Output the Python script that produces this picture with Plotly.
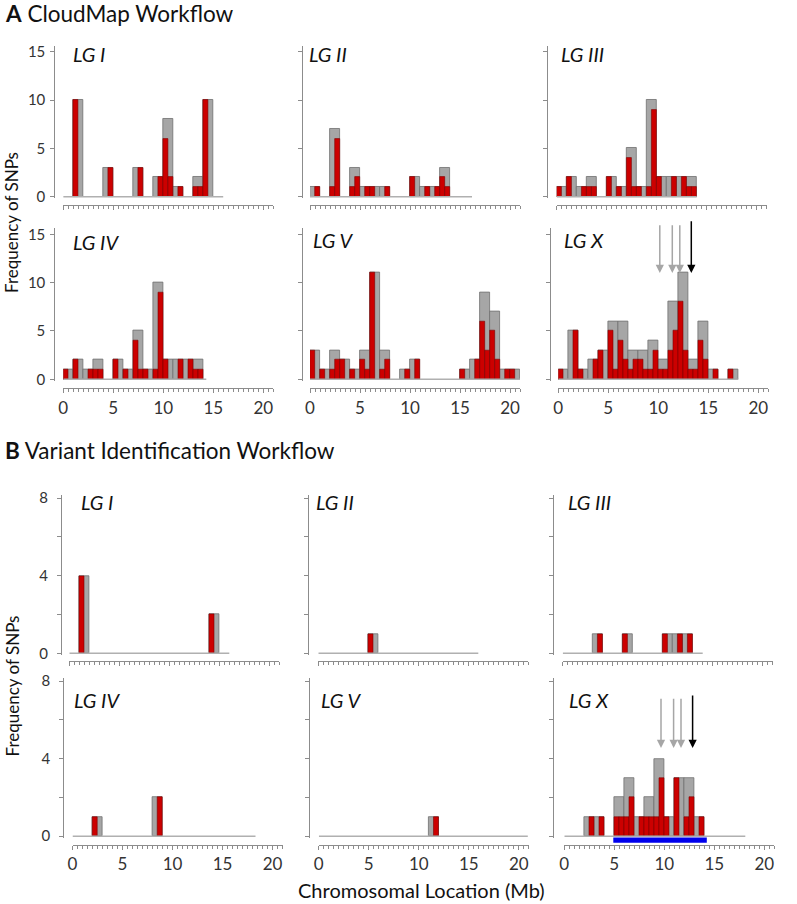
import plotly.graph_objects as go

W, H = 797, 904

# ---------------- data (Mb bins) ----------------
# Section A: CloudMap workflow. gray = 1 Mb bins (left edge), red = 0.5 Mb bins (left edge)
A_I_gray_x = [1, 4, 7, 9, 10, 11, 13, 14]
A_I_gray_y = [10, 3, 3, 2, 8, 1, 2, 10]
A_I_red_x = [1.0, 4.5, 7.5, 9.5, 10.0, 10.5, 11.5, 13.0, 13.5, 14.0]
A_I_red_y = [10, 3, 3, 2, 6, 2, 1, 1, 1, 10]

A_II_gray_x = [0, 2, 4, 5, 6, 7, 10, 11, 12, 13]
A_II_gray_y = [1, 7, 3, 1, 1, 1, 2, 1, 1, 3]
A_II_red_x = [0.5, 2.0, 2.5, 4.0, 4.5, 5.5, 6.0, 7.5, 10.0, 11.5, 12.5, 13.0, 13.5]
A_II_red_y = [1, 1, 6, 1, 2, 1, 1, 1, 2, 1, 1, 2, 1]

A_III_gray_x = [0, 1, 2, 3, 5, 6, 7, 8, 9, 10, 11, 12, 13]
A_III_gray_y = [1, 2, 1, 2, 2, 1, 5, 1, 10, 2, 2, 2, 2]
A_III_red_x = [0.0, 1.0, 2.5, 3.0, 3.5, 5.0, 6.0, 7.0, 7.5, 8.0, 9.0, 9.5, 10.0, 11.5, 12.5, 13.0, 13.5]
A_III_red_y = [1, 2, 1, 1, 1, 2, 1, 4, 1, 1, 1, 9, 2, 2, 2, 1, 1]

A_IV_gray_x = [0, 1, 2, 3, 5, 6, 7, 8, 9, 10, 11, 12, 13]
A_IV_gray_y = [1, 2, 1, 2, 2, 1, 5, 1, 10, 2, 2, 2, 2]
A_IV_red_x = [0.0, 1.0, 2.5, 3.0, 3.5, 5.0, 6.0, 7.0, 7.5, 8.0, 9.0, 9.5, 10.0, 11.5, 12.5, 13.0, 13.5]
A_IV_red_y = [1, 2, 1, 1, 1, 2, 1, 4, 1, 1, 1, 9, 2, 2, 2, 1, 1]

A_V_gray_x = [0, 1, 2, 3, 4, 5, 6, 7, 9, 10, 15, 16, 17, 18, 19, 20]
A_V_gray_y = [3, 1, 3, 2, 1, 3, 11, 3, 1, 2, 1, 2, 9, 7, 1, 1]
A_V_red_x = [0.0, 1.0, 2.0, 2.5, 3.0, 4.0, 5.0, 5.5, 6.0, 7.0, 7.5, 9.5, 10.5,
             15.0, 16.5, 17.0, 17.5, 18.0, 18.5, 19.5, 20.0]
A_V_red_y = [3, 1, 1, 2, 2, 1, 2, 1, 11, 1, 2, 1, 2, 1, 2, 6, 3, 5, 2, 1, 1]

A_X_gray_x = [0, 1, 2, 3, 4, 5, 6, 7, 8, 9, 10, 11, 12, 13, 14, 15, 17]
A_X_gray_y = [1, 5, 1, 2, 3, 6, 6, 3, 3, 4, 2, 8, 11, 2, 6, 1, 1]
A_X_red_x = [0.0, 1.5, 2.0, 3.5, 4.0, 5.0, 5.5, 6.0, 6.5, 7.0, 7.5, 8.0, 8.5, 9.0, 9.5,
             10.0, 10.5, 11.0, 11.5, 12.0, 12.5, 13.0, 13.5, 14.0, 14.5, 15.5, 17.0]
A_X_red_y = [1, 5, 1, 2, 3, 5, 1, 4, 2, 1, 2, 2, 1, 1, 3, 1, 1, 3, 5, 8, 3, 1, 1, 4, 2, 1, 1]

# Section B: Variant identification workflow
B_I_gray_x = [1, 14]
B_I_gray_y = [4, 2]
B_I_red_x = [1.0, 14.0]
B_I_red_y = [4, 2]

B_II_gray_x = [5]
B_II_gray_y = [1]
B_II_red_x = [5.0]
B_II_red_y = [1]

B_III_gray_x = [3, 6, 10, 11, 12]
B_III_gray_y = [1, 1, 1, 1, 1]
B_III_red_x = [3.5, 6.0, 10.0, 11.5, 12.5]
B_III_red_y = [1, 1, 1, 1, 1]

B_IV_gray_x = [2, 8]
B_IV_gray_y = [1, 2]
B_IV_red_x = [2.0, 8.5]
B_IV_red_y = [1, 2]

B_V_gray_x = [11]
B_V_gray_y = [1]
B_V_red_x = [11.5]
B_V_red_y = [1]

B_X_gray_x = [2, 3, 5, 6, 7, 8, 9, 10, 11, 12, 13]
B_X_gray_y = [1, 1, 2, 3, 1, 2, 4, 1, 3, 3, 1]
B_X_red_x = [2.5, 3.5, 5.0, 5.5, 6.0, 6.5, 7.5, 8.0, 8.5, 9.0, 9.5, 10.0, 11.0, 12.0, 12.5, 13.5]
B_X_red_y = [1, 1, 1, 1, 1, 2, 1, 1, 1, 1, 3, 1, 3, 1, 2, 1]

# chromosome extent (baseline length, Mb)
A_lengths = [16, 16.2, 14, 14.3, 21, 18]
B_lengths = [16, 16, 14, 18.3, 20.9, 18.1]

labels = ["LG I", "LG II", "LG III", "LG IV", "LG V", "LG X"]

# arrows (Mb) in LG X panels
A_X_arrows_gray = [10.15, 11.4, 12.15]
A_X_arrow_black = 13.3
B_X_arrows_gray = [9.67, 10.93, 11.67]
B_X_arrow_black = 12.83
# mapped interval (blue bar) in B LG X
B_X_interval = [4.9, 14.25]

# ---------------- styling / geometry ----------------
GRAY = "#a6a6a6"
GRAY_EDGE = "#707070"
RED = "#cc0000"
RED_EDGE = "#7a0000"
AXC = "#8c8c8c"
TXT = "#333333"
FONT = "Lato"
PXMB = 10.0

# per panel: x0 px, y-axis line px, y0 px, tick row px
geoms = [
    (63.2, 54.3, 196.7, 205.0),
    (310.0, 301.7, 196.7, 205.0),
    (556.7, 546.7, 196.7, 205.0),
    (63.3, 54.3, 379.3, 388.3),
    (310.0, 301.7, 379.3, 388.3),
    (558.3, 550.0, 379.3, 388.3),
    (69.3, 61.0, 653.3, 661.0),
    (318.3, 308.3, 653.3, 661.0),
    (562.7, 553.3, 653.3, 661.0),
    (72.5, 63.3, 836.2, 844.5),
    (318.8, 309.3, 836.2, 844.5),
    (564.3, 553.3, 836.2, 844.5),
]
label_pos = [(71, 54.5), (307, 54.5), (559, 54.5),
             (71, 241.5), (311, 240.5), (562, 240.5),
             (79, 501.7), (314, 501.7), (566, 501.7),
             (72, 699.5), (319, 699.5), (567, 700)]

panels = [
    (A_I_gray_x, A_I_gray_y, A_I_red_x, A_I_red_y),
    (A_II_gray_x, A_II_gray_y, A_II_red_x, A_II_red_y),
    (A_III_gray_x, A_III_gray_y, A_III_red_x, A_III_red_y),
    (A_IV_gray_x, A_IV_gray_y, A_IV_red_x, A_IV_red_y),
    (A_V_gray_x, A_V_gray_y, A_V_red_x, A_V_red_y),
    (A_X_gray_x, A_X_gray_y, A_X_red_x, A_X_red_y),
    (B_I_gray_x, B_I_gray_y, B_I_red_x, B_I_red_y),
    (B_II_gray_x, B_II_gray_y, B_II_red_x, B_II_red_y),
    (B_III_gray_x, B_III_gray_y, B_III_red_x, B_III_red_y),
    (B_IV_gray_x, B_IV_gray_y, B_IV_red_x, B_IV_red_y),
    (B_V_gray_x, B_V_gray_y, B_V_red_x, B_V_red_y),
    (B_X_gray_x, B_X_gray_y, B_X_red_x, B_X_red_y),
]
lengths = A_lengths + B_lengths


def px_x(p):
    return p / W


def px_y(p):
    return 1 - p / H


fig = go.Figure()
layout = {}
annotations = []
shapes = []

for i, (gx, gy, rx, ry) in enumerate(panels):
    n = i + 1
    sfx = "" if n == 1 else str(n)
    xa, ya = "x" + sfx, "y" + sfx
    secA = i < 6
    x0, yl, y0, tick = geoms[i]
    ppu = 9.667 if secA else 19.4
    ymin, ymax = (-0.15, 15.6) if secA else (-0.08, 8.15)
    ybot = y0 - ymin * ppu
    ytop = y0 - ymax * ppu

    fig.add_trace(go.Scatter(x=[0, lengths[i]], y=[0, 0], mode="lines",
                             line=dict(color="#b0b0b0", width=1.5),
                             xaxis=xa, yaxis=ya, showlegend=False, hoverinfo="skip"))
    fig.add_trace(go.Bar(x=gx, y=gy, width=1, offset=0,
                         marker=dict(color=GRAY, line=dict(color=GRAY_EDGE, width=0.8)),
                         xaxis=xa, yaxis=ya, showlegend=False))
    fig.add_trace(go.Bar(x=rx, y=ry, width=0.5, offset=0,
                         marker=dict(color=RED, line=dict(color=RED_EDGE, width=0.6)),
                         xaxis=xa, yaxis=ya, showlegend=False))

    col = i % 3
    row_in_sec = (i % 6) // 3
    layout["xaxis" + sfx] = dict(
        domain=[px_x(x0), px_x(x0 + 21 * PXMB)], range=[0, 21],
        anchor="free", position=px_y(tick),
        showline=True, linecolor=AXC, linewidth=1,
        ticks="outside", ticklen=4, tickcolor=AXC, tickwidth=1,
        tick0=0, dtick=5,
        minor=dict(dtick=0.5, tick0=0, ticks="outside", ticklen=3, tickcolor=AXC, tickwidth=1),
        showgrid=False, zeroline=False,
        showticklabels=(row_in_sec == 1),
        tickfont=dict(family=FONT, size=17, color=TXT),
        fixedrange=True,
    )
    if secA:
        tv = [0, 5, 10, 15]
        tt = ["0", "5", "10", "15"]
    else:
        tv = [0, 2, 4, 6, 8]
        tt = ["0", "", "4", "", "8"]
    layout["yaxis" + sfx] = dict(
        domain=[px_y(ybot), px_y(ytop)], range=[ymin, ymax],
        anchor="free", position=px_x(yl), side="left",
        showline=True, linecolor=AXC, linewidth=1,
        ticks="outside", ticklen=4, tickcolor=AXC, tickwidth=1,
        tickvals=tv, ticktext=tt,
        showticklabels=(col == 0),
        ticklabelstandoff=2 if secA else 6,
        tickfont=dict(family=FONT, size=15, color=TXT),
        showgrid=False, zeroline=False, fixedrange=True,
    )
    lx, ly = label_pos[i]
    annotations.append(dict(text="<i>" + labels[i % 6] + "</i>", xref="paper", yref="paper",
                            x=px_x(lx), y=px_y(ly), xanchor="left", yanchor="middle",
                            showarrow=False, font=dict(family=FONT, size=20, color="#111")))


# arrows in LG X panels
def add_arrows(xa, ya, grays, black, tip, top_g, top_b):
    for g in grays:
        annotations.append(dict(x=g, y=tip, ax=g, ay=top_g, xref=xa, yref=ya, axref=xa, ayref=ya,
                                text="", showarrow=True, arrowhead=2, arrowsize=1.1,
                                arrowwidth=1.5, arrowcolor="#a6a6a6", standoff=0))
    annotations.append(dict(x=black, y=tip, ax=black, ay=top_b, xref=xa, yref=ya, axref=xa, ayref=ya,
                            text="", showarrow=True, arrowhead=2, arrowsize=1.1,
                            arrowwidth=1.5, arrowcolor="#000000", standoff=0))


add_arrows("x6", "y6", A_X_arrows_gray, A_X_arrow_black, 11.0, 16.1, 16.5)
add_arrows("x12", "y12", B_X_arrows_gray, B_X_arrow_black, 4.55, 7.16, 7.33)

# blue mapped interval under B LG X
shapes.append(dict(type="rect", xref="x12", yref="paper",
                   x0=B_X_interval[0], x1=B_X_interval[1],
                   y0=px_y(842.8), y1=px_y(837.6),
                   fillcolor="#0000ee", line=dict(width=0), layer="above"))

# section titles and axis titles
annotations.append(dict(text="<b>A</b> CloudMap Workflow", xref="paper", yref="paper",
                        x=px_x(3), y=px_y(14), xanchor="left", yanchor="middle", showarrow=False,
                        font=dict(family=FONT, size=22.5, color="#111")))
annotations.append(dict(text="<b>B</b> Variant Identification Workflow", xref="paper", yref="paper",
                        x=px_x(3), y=px_y(450.5), xanchor="left", yanchor="middle", showarrow=False,
                        font=dict(family=FONT, size=22.5, color="#111")))
for yc in (222.5, 686):
    annotations.append(dict(text="Frequency of SNPs", xref="paper", yref="paper",
                            x=px_x(11.5), y=px_y(yc), xanchor="center", yanchor="middle",
                            textangle=-90, showarrow=False,
                            font=dict(family=FONT, size=17, color="#111")))
annotations.append(dict(text="Chromosomal Location (Mb)", xref="paper", yref="paper",
                        x=px_x(421), y=px_y(890), xanchor="center", yanchor="middle",
                        showarrow=False, font=dict(family=FONT, size=20, color="#111")))

fig.update_layout(
    width=W, height=H,
    margin=dict(l=0, r=0, t=0, b=0, autoexpand=False),
    paper_bgcolor="white", plot_bgcolor="rgba(0,0,0,0)",
    barmode="overlay", bargap=0,
    showlegend=False,
    annotations=annotations, shapes=shapes,
    font=dict(family=FONT, color=TXT),
    **layout,
)

fig.write_html("out.html", config={"displayModeBar": False},
               post_script="document.body.style.margin='0';document.body.style.padding='0';")
